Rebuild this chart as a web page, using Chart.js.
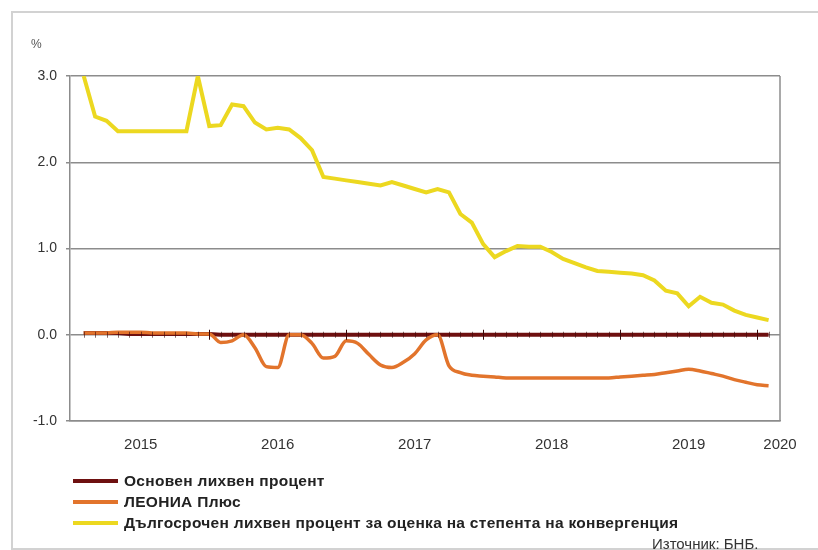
<!DOCTYPE html>
<html><head><meta charset="utf-8">
<script src="https://cdn.jsdelivr.net/npm/chart.js@4"></script>
<style>
html,body{margin:0;padding:0;background:#fff;}
#wrap{position:relative;width:818px;height:550px;overflow:hidden;font-family:"Liberation Sans",Arial,sans-serif;background:#fff;}
#frame{position:absolute;left:11px;top:11px;width:840px;height:535px;border:2px solid #d2d2d2;}
#box{position:absolute;left:0;top:0;width:818px;height:550px;}
.unit{position:absolute;left:31px;top:37px;font-size:12px;color:#555;}
#legend{position:absolute;left:73px;top:470px;}
.item{display:flex;align-items:center;height:21px;font-weight:bold;font-size:15.5px;letter-spacing:0.3px;color:#222;white-space:nowrap;}
.sw{width:45px;height:4px;margin-right:6px;}
#src{position:absolute;left:652px;top:535px;font-size:15px;color:#333;}
</style></head>
<body>
<div id="wrap">
  <div id="frame"></div>
  <div id="box"><canvas id="c"></canvas></div>
  <div class="unit">%</div>
  <div id="legend"></div>
  <div id="src">Източник: БНБ.</div>
</div>
<script>
// Monthly categories, Jan 2015 .. Jan 2020
const months = [
 '01.2015','02.2015','03.2015','04.2015','05.2015','06.2015','07.2015','08.2015','09.2015','10.2015','11.2015','12.2015',
 '01.2016','02.2016','03.2016','04.2016','05.2016','06.2016','07.2016','08.2016','09.2016','10.2016','11.2016','12.2016',
 '01.2017','02.2017','03.2017','04.2017','05.2017','06.2017','07.2017','08.2017','09.2017','10.2017','11.2017','12.2017',
 '01.2018','02.2018','03.2018','04.2018','05.2018','06.2018','07.2018','08.2018','09.2018','10.2018','11.2018','12.2018',
 '01.2019','02.2019','03.2019','04.2019','05.2019','06.2019','07.2019','08.2019','09.2019','10.2019','11.2019','12.2019',
 '01.2020'
];
// Основен лихвен процент
const baseRate = [
 0.02,0.02,0.02,0.02,0.01,0.01,0.01,0.01,0.01,0.01,0.01,0.01,
 0,0,0,0,0,0,0,0,0,0,0,0,
 0,0,0,0,0,0,0,0,0,0,0,0,
 0,0,0,0,0,0,0,0,0,0,0,0,
 0,0,0,0,0,0,0,0,0,0,0,0,
 0
];
// ЛЕОНИА Плюс
const leonia = [
 0.02,0.02,0.02,0.03,0.03,0.03,0.02,0.02,0.02,0.02,0.01,0.01,
 -0.09,-0.07,0.00,-0.15,-0.37,-0.38,0.00,0.00,-0.10,-0.27,-0.25,-0.07,
 -0.10,-0.23,-0.35,-0.38,-0.32,-0.22,-0.06,0.00,-0.36,-0.44,-0.47,-0.48,
 -0.49,-0.50,-0.50,-0.50,-0.50,-0.50,-0.50,-0.50,-0.50,-0.50,-0.50,-0.49,
 -0.48,-0.47,-0.46,-0.44,-0.42,-0.40,-0.42,-0.45,-0.48,-0.52,-0.55,-0.58,
 -0.59
];
// Дългосрочен лихвен процент за оценка на степента на конвергенция
const longTerm = [
 3.00,2.53,2.48,2.36,2.36,2.36,2.36,2.36,2.36,2.36,3.00,2.42,
 2.43,2.67,2.65,2.46,2.38,2.40,2.38,2.28,2.14,1.83,1.81,1.79,
 1.77,1.75,1.73,1.77,1.73,1.69,1.65,1.69,1.65,1.40,1.30,1.05,
 0.90,0.97,1.03,1.02,1.02,0.96,0.88,0.83,0.78,0.74,0.73,0.72,
 0.71,0.69,0.63,0.51,0.48,0.33,0.44,0.37,0.35,0.28,0.23,0.20,
 0.17
];
const yearLabels = ['2015','2016','2017','2018','2019','2020'];
const seriesNames = ['Основен лихвен процент','ЛЕОНИА Плюс','Дългосрочен лихвен процент за оценка на степента на конвергенция'];
const colors = ['#6e1010','#e2742c','#ecd820'];

const toPts = arr => arr.map((v,i)=>({x:i,y:v}));
// year label positions: middle of each year's months, last label at axis end
const yearTickVals = yearLabels.map((y,k)=> k < yearLabels.length-1 ? 12*k+5 : months.length);

const zeroTicks = {
  id:'zeroTicks',
  beforeDatasetsDraw(chart){
    const {ctx, chartArea:a} = chart;
    ctx.save();
    ctx.strokeStyle = '#8c8c8c'; ctx.lineWidth = 1.5;
    ctx.beginPath(); ctx.moveTo(a.right, a.top); ctx.lineTo(a.right, a.bottom); ctx.stroke();
    ctx.restore();
  },
  afterDatasetsDraw(chart){
    const {ctx, scales:{x,y}} = chart;
    const y0 = y.getPixelForValue(0);
    ctx.save();
    ctx.lineWidth = 1;
    months.forEach((m,i)=>{
      const px = Math.round(x.getPixelForValue(i))+0.5;
      const big = (i % 12) === 11;
      ctx.strokeStyle = big ? '#3a0808' : 'rgba(58,8,8,0.6)';
      ctx.beginPath(); ctx.moveTo(px, y0-(big?5:3)); ctx.lineTo(px, y0+(big?5:3)); ctx.stroke();
    });
    ctx.restore();
  }
};

const chart = new Chart(document.getElementById('c'), {
  type:'line',
  data:{
    datasets:[
      {label:seriesNames[0], data:toPts(baseRate), borderColor:colors[0], borderWidth:4, pointRadius:0, order:3, tension:0},
      {label:seriesNames[1], data:toPts(leonia), borderColor:colors[1], borderWidth:3.5, pointRadius:0, order:2, cubicInterpolationMode:'monotone'},
      {label:seriesNames[2], data:toPts(longTerm), borderColor:colors[2], borderWidth:4, pointRadius:0, order:1, tension:0}
    ]
  },
  options:{
    responsive:true, maintainAspectRatio:false, animation:false,
    layout:{padding:{top:76,right:38,left:0,bottom:0}},
    plugins:{legend:{display:false}, tooltip:{enabled:false}},
    scales:{
      x:{
        type:'linear', min:-1.2, max:61,
        afterFit(s){ s.height = 129; },
        afterBuildTicks(s){ s.ticks = yearTickVals.map(v=>({value:v})); },
        grid:{display:false, drawTicks:false},
        border:{display:true, color:'#8c8c8c', width:1.5},
        ticks:{autoSkip:false, maxRotation:0, padding:15, color:'#333',
          font:{family:'"Liberation Sans", Arial, sans-serif', size:15},
          callback:(v,i)=>yearLabels[i]}
      },
      y:{
        min:-1, max:3,
        afterFit(s){ s.width = 70; },
        grid:{color:'#8c8c8c', lineWidth:1.5, tickLength:4, tickColor:'#8c8c8c'},
        border:{display:true, color:'#8c8c8c', width:1.5},
        ticks:{stepSize:1, padding:9, color:'#333',
          font:{family:'"Liberation Sans", Arial, sans-serif', size:14},
          callback:v=>v.toFixed(1)}
      }
    }
  },
  plugins:[zeroTicks]
});

const lg = document.getElementById('legend');
seriesNames.forEach((n,i)=>{
  const d = document.createElement('div'); d.className='item';
  const s = document.createElement('span'); s.className='sw'; s.style.background=colors[i];
  d.appendChild(s); d.appendChild(document.createTextNode(n)); lg.appendChild(d);
});
</script>
</body></html>
